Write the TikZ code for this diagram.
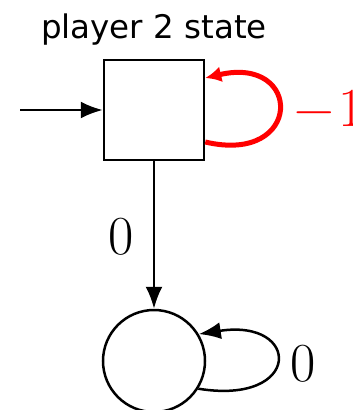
\documentclass[tikz,border=0pt]{standalone}
\usepackage{fontspec}
\setsansfont{DejaVu Sans}
\usetikzlibrary{positioning,arrows.meta}

\begin{document}
\begin{tikzpicture}[x=1pt, y=-1pt,
  st/.style={draw, line width=2.5pt, inner sep=0pt},
  edg/.style={line width=2.5pt, -{Latex[length=22pt,width=17pt]}},
  lbl/.style={inner sep=0pt, font=\rmfamily\fontsize{55}{60}\selectfont}]
\useasboundingbox (0,0) rectangle (353,410);
\node[st, rectangle, minimum size=100pt] (sq) at (154,110) {};
\node[st, circle, minimum size=102pt] (ci) at (154,361) {};
\node[inner sep=0pt, font=\sffamily\fontsize{32.5}{36}\selectfont, above=13pt of sq] (ttl) {player 2 state};
\coordinate (in) at (20,110);
\draw[edg] (in) -- (sq.west);
\draw[edg] (sq.south) -- (ci.north);
\draw[red, line width=5pt, -{Latex[length=16pt,width=16pt]}]
  ([yshift=-32pt]sq.east) .. controls +(98,23) and +(98,-23) .. ([yshift=32pt]sq.east);
\draw[edg] (ci.-32) .. controls +(104,17) and +(103,-16) .. (ci.31);
\node[lbl, red, anchor=base west] (l1) at (294,126) {−\kern5pt1};
\node[lbl, anchor=base west] (l2) at (108,254) {0};
\node[lbl, anchor=base west] (l3) at (290,381) {0};
\end{tikzpicture}
\end{document}
